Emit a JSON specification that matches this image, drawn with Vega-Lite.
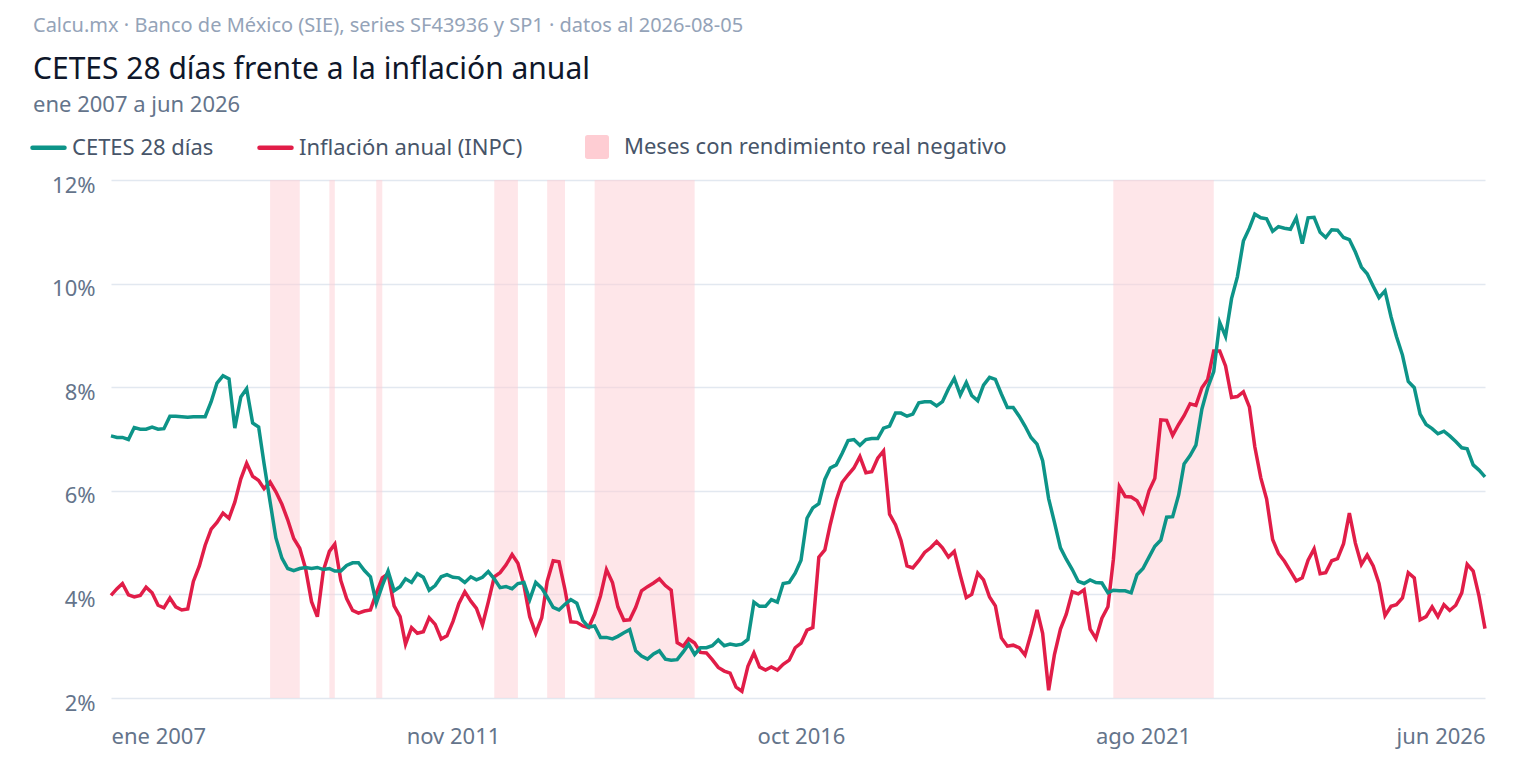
{
  "$schema": "https://vega.github.io/schema/vega-lite/v6.json",
  "background": "white",
  "padding": {"left": 30, "right": 35, "top": 16, "bottom": 10},
  "title": {
    "text": "Calcu.mx · Banco de México (SIE), series SF43936 y SP1 · datos al 2026-08-05",
    "anchor": "start",
    "fontSize": 20,
    "fontWeight": "normal",
    "color": "#94a3b8",
    "offset": 19,
    "dx": 3
  },
  "datasets": {
    "serie": [
      {"fecha": "2007-01-01", "cetes": 7.06, "inflacion": 3.98},
      {"fecha": "2007-02-01", "cetes": 7.03, "inflacion": 4.11},
      {"fecha": "2007-03-01", "cetes": 7.03, "inflacion": 4.21},
      {"fecha": "2007-04-01", "cetes": 6.99, "inflacion": 3.99},
      {"fecha": "2007-05-01", "cetes": 7.22, "inflacion": 3.95},
      {"fecha": "2007-06-01", "cetes": 7.19, "inflacion": 3.98},
      {"fecha": "2007-07-01", "cetes": 7.19, "inflacion": 4.14},
      {"fecha": "2007-08-01", "cetes": 7.23, "inflacion": 4.03},
      {"fecha": "2007-09-01", "cetes": 7.19, "inflacion": 3.79},
      {"fecha": "2007-10-01", "cetes": 7.20, "inflacion": 3.74},
      {"fecha": "2007-11-01", "cetes": 7.44, "inflacion": 3.93},
      {"fecha": "2007-12-01", "cetes": 7.44, "inflacion": 3.76},
      {"fecha": "2008-01-01", "cetes": 7.43, "inflacion": 3.70},
      {"fecha": "2008-02-01", "cetes": 7.42, "inflacion": 3.72},
      {"fecha": "2008-03-01", "cetes": 7.43, "inflacion": 4.25},
      {"fecha": "2008-04-01", "cetes": 7.43, "inflacion": 4.55},
      {"fecha": "2008-05-01", "cetes": 7.43, "inflacion": 4.95},
      {"fecha": "2008-06-01", "cetes": 7.72, "inflacion": 5.26},
      {"fecha": "2008-07-01", "cetes": 8.08, "inflacion": 5.39},
      {"fecha": "2008-08-01", "cetes": 8.22, "inflacion": 5.57},
      {"fecha": "2008-09-01", "cetes": 8.16, "inflacion": 5.47},
      {"fecha": "2008-10-01", "cetes": 7.21, "inflacion": 5.78},
      {"fecha": "2008-11-01", "cetes": 7.81, "inflacion": 6.23},
      {"fecha": "2008-12-01", "cetes": 7.97, "inflacion": 6.53},
      {"fecha": "2009-01-01", "cetes": 7.31, "inflacion": 6.28},
      {"fecha": "2009-02-01", "cetes": 7.23, "inflacion": 6.20},
      {"fecha": "2009-03-01", "cetes": 6.52, "inflacion": 6.04},
      {"fecha": "2009-04-01", "cetes": 5.79, "inflacion": 6.17},
      {"fecha": "2009-05-01", "cetes": 5.09, "inflacion": 5.98},
      {"fecha": "2009-06-01", "cetes": 4.70, "inflacion": 5.74},
      {"fecha": "2009-07-01", "cetes": 4.50, "inflacion": 5.44},
      {"fecha": "2009-08-01", "cetes": 4.46, "inflacion": 5.08},
      {"fecha": "2009-09-01", "cetes": 4.50, "inflacion": 4.89},
      {"fecha": "2009-10-01", "cetes": 4.52, "inflacion": 4.50},
      {"fecha": "2009-11-01", "cetes": 4.50, "inflacion": 3.86},
      {"fecha": "2009-12-01", "cetes": 4.52, "inflacion": 3.57},
      {"fecha": "2010-01-01", "cetes": 4.48, "inflacion": 4.46},
      {"fecha": "2010-02-01", "cetes": 4.50, "inflacion": 4.83},
      {"fecha": "2010-03-01", "cetes": 4.45, "inflacion": 4.97},
      {"fecha": "2010-04-01", "cetes": 4.45, "inflacion": 4.27},
      {"fecha": "2010-05-01", "cetes": 4.56, "inflacion": 3.92},
      {"fecha": "2010-06-01", "cetes": 4.61, "inflacion": 3.69},
      {"fecha": "2010-07-01", "cetes": 4.61, "inflacion": 3.64},
      {"fecha": "2010-08-01", "cetes": 4.46, "inflacion": 3.68},
      {"fecha": "2010-09-01", "cetes": 4.34, "inflacion": 3.70},
      {"fecha": "2010-10-01", "cetes": 3.83, "inflacion": 4.02},
      {"fecha": "2010-11-01", "cetes": 4.17, "inflacion": 4.32},
      {"fecha": "2010-12-01", "cetes": 4.45, "inflacion": 4.40},
      {"fecha": "2011-01-01", "cetes": 4.07, "inflacion": 3.78},
      {"fecha": "2011-02-01", "cetes": 4.15, "inflacion": 3.57},
      {"fecha": "2011-03-01", "cetes": 4.30, "inflacion": 3.04},
      {"fecha": "2011-04-01", "cetes": 4.23, "inflacion": 3.36},
      {"fecha": "2011-05-01", "cetes": 4.40, "inflacion": 3.25},
      {"fecha": "2011-06-01", "cetes": 4.33, "inflacion": 3.28},
      {"fecha": "2011-07-01", "cetes": 4.08, "inflacion": 3.55},
      {"fecha": "2011-08-01", "cetes": 4.17, "inflacion": 3.42},
      {"fecha": "2011-09-01", "cetes": 4.34, "inflacion": 3.14},
      {"fecha": "2011-10-01", "cetes": 4.38, "inflacion": 3.20},
      {"fecha": "2011-11-01", "cetes": 4.33, "inflacion": 3.48},
      {"fecha": "2011-12-01", "cetes": 4.32, "inflacion": 3.82},
      {"fecha": "2012-01-01", "cetes": 4.23, "inflacion": 4.05},
      {"fecha": "2012-02-01", "cetes": 4.34, "inflacion": 3.87},
      {"fecha": "2012-03-01", "cetes": 4.28, "inflacion": 3.73},
      {"fecha": "2012-04-01", "cetes": 4.33, "inflacion": 3.41},
      {"fecha": "2012-05-01", "cetes": 4.44, "inflacion": 3.85},
      {"fecha": "2012-06-01", "cetes": 4.30, "inflacion": 4.34},
      {"fecha": "2012-07-01", "cetes": 4.13, "inflacion": 4.42},
      {"fecha": "2012-08-01", "cetes": 4.15, "inflacion": 4.57},
      {"fecha": "2012-09-01", "cetes": 4.11, "inflacion": 4.77},
      {"fecha": "2012-10-01", "cetes": 4.21, "inflacion": 4.60},
      {"fecha": "2012-11-01", "cetes": 4.23, "inflacion": 4.18},
      {"fecha": "2012-12-01", "cetes": 3.90, "inflacion": 3.57},
      {"fecha": "2013-01-01", "cetes": 4.23, "inflacion": 3.25},
      {"fecha": "2013-02-01", "cetes": 4.12, "inflacion": 3.55},
      {"fecha": "2013-03-01", "cetes": 3.95, "inflacion": 4.25},
      {"fecha": "2013-04-01", "cetes": 3.75, "inflacion": 4.65},
      {"fecha": "2013-05-01", "cetes": 3.70, "inflacion": 4.63},
      {"fecha": "2013-06-01", "cetes": 3.81, "inflacion": 4.09},
      {"fecha": "2013-07-01", "cetes": 3.90, "inflacion": 3.47},
      {"fecha": "2013-08-01", "cetes": 3.83, "inflacion": 3.46},
      {"fecha": "2013-09-01", "cetes": 3.50, "inflacion": 3.39},
      {"fecha": "2013-10-01", "cetes": 3.37, "inflacion": 3.36},
      {"fecha": "2013-11-01", "cetes": 3.39, "inflacion": 3.62},
      {"fecha": "2013-12-01", "cetes": 3.17, "inflacion": 3.97},
      {"fecha": "2014-01-01", "cetes": 3.17, "inflacion": 4.48},
      {"fecha": "2014-02-01", "cetes": 3.14, "inflacion": 4.23},
      {"fecha": "2014-03-01", "cetes": 3.19, "inflacion": 3.76},
      {"fecha": "2014-04-01", "cetes": 3.26, "inflacion": 3.50},
      {"fecha": "2014-05-01", "cetes": 3.32, "inflacion": 3.51},
      {"fecha": "2014-06-01", "cetes": 2.91, "inflacion": 3.75},
      {"fecha": "2014-07-01", "cetes": 2.81, "inflacion": 4.07},
      {"fecha": "2014-08-01", "cetes": 2.75, "inflacion": 4.15},
      {"fecha": "2014-09-01", "cetes": 2.85, "inflacion": 4.22},
      {"fecha": "2014-10-01", "cetes": 2.91, "inflacion": 4.30},
      {"fecha": "2014-11-01", "cetes": 2.75, "inflacion": 4.17},
      {"fecha": "2014-12-01", "cetes": 2.73, "inflacion": 4.08},
      {"fecha": "2015-01-01", "cetes": 2.74, "inflacion": 3.07},
      {"fecha": "2015-02-01", "cetes": 2.89, "inflacion": 3.00},
      {"fecha": "2015-03-01", "cetes": 3.04, "inflacion": 3.14},
      {"fecha": "2015-04-01", "cetes": 2.84, "inflacion": 3.06},
      {"fecha": "2015-05-01", "cetes": 2.97, "inflacion": 2.88},
      {"fecha": "2015-06-01", "cetes": 2.97, "inflacion": 2.87},
      {"fecha": "2015-07-01", "cetes": 3.01, "inflacion": 2.74},
      {"fecha": "2015-08-01", "cetes": 3.12, "inflacion": 2.59},
      {"fecha": "2015-09-01", "cetes": 3.01, "inflacion": 2.52},
      {"fecha": "2015-10-01", "cetes": 3.04, "inflacion": 2.48},
      {"fecha": "2015-11-01", "cetes": 3.02, "inflacion": 2.21},
      {"fecha": "2015-12-01", "cetes": 3.04, "inflacion": 2.13},
      {"fecha": "2016-01-01", "cetes": 3.13, "inflacion": 2.61},
      {"fecha": "2016-02-01", "cetes": 3.85, "inflacion": 2.87},
      {"fecha": "2016-03-01", "cetes": 3.77, "inflacion": 2.60},
      {"fecha": "2016-04-01", "cetes": 3.77, "inflacion": 2.54},
      {"fecha": "2016-05-01", "cetes": 3.90, "inflacion": 2.60},
      {"fecha": "2016-06-01", "cetes": 3.85, "inflacion": 2.54},
      {"fecha": "2016-07-01", "cetes": 4.21, "inflacion": 2.65},
      {"fecha": "2016-08-01", "cetes": 4.23, "inflacion": 2.73},
      {"fecha": "2016-09-01", "cetes": 4.41, "inflacion": 2.97},
      {"fecha": "2016-10-01", "cetes": 4.66, "inflacion": 3.06},
      {"fecha": "2016-11-01", "cetes": 5.47, "inflacion": 3.31},
      {"fecha": "2016-12-01", "cetes": 5.67, "inflacion": 3.36},
      {"fecha": "2017-01-01", "cetes": 5.75, "inflacion": 4.72},
      {"fecha": "2017-02-01", "cetes": 6.22, "inflacion": 4.86},
      {"fecha": "2017-03-01", "cetes": 6.44, "inflacion": 5.35},
      {"fecha": "2017-04-01", "cetes": 6.50, "inflacion": 5.82},
      {"fecha": "2017-05-01", "cetes": 6.72, "inflacion": 6.16},
      {"fecha": "2017-06-01", "cetes": 6.97, "inflacion": 6.31},
      {"fecha": "2017-07-01", "cetes": 6.99, "inflacion": 6.44},
      {"fecha": "2017-08-01", "cetes": 6.88, "inflacion": 6.66},
      {"fecha": "2017-09-01", "cetes": 6.99, "inflacion": 6.35},
      {"fecha": "2017-10-01", "cetes": 7.01, "inflacion": 6.37},
      {"fecha": "2017-11-01", "cetes": 7.01, "inflacion": 6.63},
      {"fecha": "2017-12-01", "cetes": 7.21, "inflacion": 6.77},
      {"fecha": "2018-01-01", "cetes": 7.25, "inflacion": 5.55},
      {"fecha": "2018-02-01", "cetes": 7.50, "inflacion": 5.34},
      {"fecha": "2018-03-01", "cetes": 7.50, "inflacion": 5.04},
      {"fecha": "2018-04-01", "cetes": 7.44, "inflacion": 4.55},
      {"fecha": "2018-05-01", "cetes": 7.48, "inflacion": 4.51},
      {"fecha": "2018-06-01", "cetes": 7.70, "inflacion": 4.65},
      {"fecha": "2018-07-01", "cetes": 7.72, "inflacion": 4.81},
      {"fecha": "2018-08-01", "cetes": 7.72, "inflacion": 4.90},
      {"fecha": "2018-09-01", "cetes": 7.64, "inflacion": 5.02},
      {"fecha": "2018-10-01", "cetes": 7.72, "inflacion": 4.90},
      {"fecha": "2018-11-01", "cetes": 7.97, "inflacion": 4.72},
      {"fecha": "2018-12-01", "cetes": 8.17, "inflacion": 4.83},
      {"fecha": "2019-01-01", "cetes": 7.85, "inflacion": 4.37},
      {"fecha": "2019-02-01", "cetes": 8.09, "inflacion": 3.94},
      {"fecha": "2019-03-01", "cetes": 7.84, "inflacion": 4.00},
      {"fecha": "2019-04-01", "cetes": 7.74, "inflacion": 4.41},
      {"fecha": "2019-05-01", "cetes": 8.04, "inflacion": 4.28},
      {"fecha": "2019-06-01", "cetes": 8.19, "inflacion": 3.95},
      {"fecha": "2019-07-01", "cetes": 8.15, "inflacion": 3.78},
      {"fecha": "2019-08-01", "cetes": 7.87, "inflacion": 3.16},
      {"fecha": "2019-09-01", "cetes": 7.61, "inflacion": 3.00},
      {"fecha": "2019-10-01", "cetes": 7.61, "inflacion": 3.02},
      {"fecha": "2019-11-01", "cetes": 7.44, "inflacion": 2.97},
      {"fecha": "2019-12-01", "cetes": 7.25, "inflacion": 2.83},
      {"fecha": "2020-01-01", "cetes": 7.03, "inflacion": 3.24},
      {"fecha": "2020-02-01", "cetes": 6.90, "inflacion": 3.70},
      {"fecha": "2020-03-01", "cetes": 6.58, "inflacion": 3.25},
      {"fecha": "2020-04-01", "cetes": 5.85, "inflacion": 2.15},
      {"fecha": "2020-05-01", "cetes": 5.39, "inflacion": 2.84},
      {"fecha": "2020-06-01", "cetes": 4.90, "inflacion": 3.33},
      {"fecha": "2020-07-01", "cetes": 4.68, "inflacion": 3.62},
      {"fecha": "2020-08-01", "cetes": 4.48, "inflacion": 4.05},
      {"fecha": "2020-09-01", "cetes": 4.25, "inflacion": 4.01},
      {"fecha": "2020-10-01", "cetes": 4.21, "inflacion": 4.09},
      {"fecha": "2020-11-01", "cetes": 4.28, "inflacion": 3.33},
      {"fecha": "2020-12-01", "cetes": 4.23, "inflacion": 3.15},
      {"fecha": "2021-01-01", "cetes": 4.22, "inflacion": 3.54},
      {"fecha": "2021-02-01", "cetes": 4.03, "inflacion": 3.76},
      {"fecha": "2021-03-01", "cetes": 4.08, "inflacion": 4.67},
      {"fecha": "2021-04-01", "cetes": 4.07, "inflacion": 6.08},
      {"fecha": "2021-05-01", "cetes": 4.07, "inflacion": 5.89},
      {"fecha": "2021-06-01", "cetes": 4.03, "inflacion": 5.88},
      {"fecha": "2021-07-01", "cetes": 4.38, "inflacion": 5.81},
      {"fecha": "2021-08-01", "cetes": 4.50, "inflacion": 5.59},
      {"fecha": "2021-09-01", "cetes": 4.72, "inflacion": 6.00},
      {"fecha": "2021-10-01", "cetes": 4.93, "inflacion": 6.24},
      {"fecha": "2021-11-01", "cetes": 5.05, "inflacion": 7.37},
      {"fecha": "2021-12-01", "cetes": 5.49, "inflacion": 7.36},
      {"fecha": "2022-01-01", "cetes": 5.50, "inflacion": 7.07},
      {"fecha": "2022-02-01", "cetes": 5.92, "inflacion": 7.28},
      {"fecha": "2022-03-01", "cetes": 6.52, "inflacion": 7.45},
      {"fecha": "2022-04-01", "cetes": 6.68, "inflacion": 7.68},
      {"fecha": "2022-05-01", "cetes": 6.88, "inflacion": 7.65},
      {"fecha": "2022-06-01", "cetes": 7.58, "inflacion": 7.99},
      {"fecha": "2022-07-01", "cetes": 7.99, "inflacion": 8.15},
      {"fecha": "2022-08-01", "cetes": 8.30, "inflacion": 8.70},
      {"fecha": "2022-09-01", "cetes": 9.25, "inflacion": 8.70},
      {"fecha": "2022-10-01", "cetes": 8.98, "inflacion": 8.41},
      {"fecha": "2022-11-01", "cetes": 9.71, "inflacion": 7.80},
      {"fecha": "2022-12-01", "cetes": 10.13, "inflacion": 7.82},
      {"fecha": "2023-01-01", "cetes": 10.82, "inflacion": 7.91},
      {"fecha": "2023-02-01", "cetes": 11.07, "inflacion": 7.62},
      {"fecha": "2023-03-01", "cetes": 11.34, "inflacion": 6.85},
      {"fecha": "2023-04-01", "cetes": 11.27, "inflacion": 6.25},
      {"fecha": "2023-05-01", "cetes": 11.25, "inflacion": 5.84},
      {"fecha": "2023-06-01", "cetes": 11.01, "inflacion": 5.06},
      {"fecha": "2023-07-01", "cetes": 11.10, "inflacion": 4.79},
      {"fecha": "2023-08-01", "cetes": 11.07, "inflacion": 4.64},
      {"fecha": "2023-09-01", "cetes": 11.05, "inflacion": 4.45},
      {"fecha": "2023-10-01", "cetes": 11.27, "inflacion": 4.26},
      {"fecha": "2023-11-01", "cetes": 10.77, "inflacion": 4.32},
      {"fecha": "2023-12-01", "cetes": 11.27, "inflacion": 4.66},
      {"fecha": "2024-01-01", "cetes": 11.28, "inflacion": 4.88},
      {"fecha": "2024-02-01", "cetes": 10.99, "inflacion": 4.40},
      {"fecha": "2024-03-01", "cetes": 10.89, "inflacion": 4.42},
      {"fecha": "2024-04-01", "cetes": 11.04, "inflacion": 4.65},
      {"fecha": "2024-05-01", "cetes": 11.03, "inflacion": 4.69},
      {"fecha": "2024-06-01", "cetes": 10.89, "inflacion": 4.98},
      {"fecha": "2024-07-01", "cetes": 10.85, "inflacion": 5.57},
      {"fecha": "2024-08-01", "cetes": 10.61, "inflacion": 4.99},
      {"fecha": "2024-09-01", "cetes": 10.32, "inflacion": 4.58},
      {"fecha": "2024-10-01", "cetes": 10.19, "inflacion": 4.76},
      {"fecha": "2024-11-01", "cetes": 9.95, "inflacion": 4.55},
      {"fecha": "2024-12-01", "cetes": 9.73, "inflacion": 4.21},
      {"fecha": "2025-01-01", "cetes": 9.86, "inflacion": 3.59},
      {"fecha": "2025-02-01", "cetes": 9.36, "inflacion": 3.77},
      {"fecha": "2025-03-01", "cetes": 8.98, "inflacion": 3.80},
      {"fecha": "2025-04-01", "cetes": 8.62, "inflacion": 3.93},
      {"fecha": "2025-05-01", "cetes": 8.11, "inflacion": 4.42},
      {"fecha": "2025-06-01", "cetes": 7.99, "inflacion": 4.32},
      {"fecha": "2025-07-01", "cetes": 7.48, "inflacion": 3.51},
      {"fecha": "2025-08-01", "cetes": 7.28, "inflacion": 3.57},
      {"fecha": "2025-09-01", "cetes": 7.20, "inflacion": 3.76},
      {"fecha": "2025-10-01", "cetes": 7.10, "inflacion": 3.57},
      {"fecha": "2025-11-01", "cetes": 7.15, "inflacion": 3.80},
      {"fecha": "2025-12-01", "cetes": 7.06, "inflacion": 3.69},
      {"fecha": "2026-01-01", "cetes": 6.95, "inflacion": 3.79},
      {"fecha": "2026-02-01", "cetes": 6.83, "inflacion": 4.03},
      {"fecha": "2026-03-01", "cetes": 6.81, "inflacion": 4.58},
      {"fecha": "2026-04-01", "cetes": 6.50, "inflacion": 4.45},
      {"fecha": "2026-05-01", "cetes": 6.40, "inflacion": 3.97},
      {"fecha": "2026-06-01", "cetes": 6.27, "inflacion": 3.34}
    ],
    "negativos": [
      {"fecha": "2009-04-01", "fecha_fin": "2009-09-01"},
      {"fecha": "2010-02-01", "fecha_fin": "2010-03-01"},
      {"fecha": "2010-10-01", "fecha_fin": "2010-11-01"},
      {"fecha": "2012-06-01", "fecha_fin": "2012-10-01"},
      {"fecha": "2013-03-01", "fecha_fin": "2013-06-01"},
      {"fecha": "2013-11-01", "fecha_fin": "2015-04-01"},
      {"fecha": "2021-03-01", "fecha_fin": "2022-08-01"}
    ]
  },
  "vconcat": [
    {
      "width": 1374,
      "height": 518,
      "title": {
        "text": "CETES 28 días frente a la inflación anual",
        "subtitle": "ene 2007 a jun 2026",
        "anchor": "start",
        "frame": "bounds",
        "fontSize": 30,
        "fontWeight": "normal",
        "color": "#0f172a",
        "subtitleFontSize": 22,
        "subtitleColor": "#64748b",
        "subtitlePadding": 10,
        "offset": 58,
        "dx": 3
      },
      "encoding": {
        "x": {
          "field": "fecha",
          "type": "temporal",
          "scale": {"type": "utc"},
          "axis": {
            "title": null,
            "grid": false,
            "labelFlush": true,
            "labelPadding": 28,
            "values": [
              {"year": 2007, "month": 1, "date": 1, "utc": true},
              {"year": 2011, "month": 11, "date": 1, "utc": true},
              {"year": 2016, "month": 10, "date": 1, "utc": true},
              {"year": 2021, "month": 8, "date": 1, "utc": true},
              {"year": 2026, "month": 6, "date": 1, "utc": true}
            ],
            "labelExpr": "['ene','feb','mar','abr','may','jun','jul','ago','sep','oct','nov','dic'][utcmonth(datum.value)] + ' ' + utcyear(datum.value)"
          }
        }
      },
      "layer": [
        {
          "data": {"name": "negativos"},
          "mark": {"type": "rect", "opacity": 0.5},
          "encoding": {
            "x2": {"field": "fecha_fin"},
            "fill": {
              "datum": "Meses con rendimiento real negativo",
              "type": "nominal",
              "scale": {"range": ["#fecdd3"]},
              "legend": {
                "orient": "none",
                "legendX": 474,
                "legendY": -45,
                "title": null,
                "symbolType": "M-0.78,-1L0.78,-1Q1,-1,1,-0.78L1,0.78Q1,1,0.78,1L-0.78,1Q-1,1,-1,0.78L-1,-0.78Q-1,-1,-0.78,-1Z",
                "symbolSize": 576,
                "symbolOpacity": 1,
                "symbolStrokeWidth": 0,
                "labelFontSize": 22,
                "labelLimit": 600,
                "labelColor": "#475569",
                "labelOffset": 15
              }
            }
          }
        },
        {
          "data": {"name": "serie"},
          "mark": {"type": "line", "strokeWidth": 3.5},
          "encoding": {
            "y": {
              "field": "inflacion",
              "type": "quantitative",
              "scale": {"domain": [2, 12], "nice": false},
              "axis": {
                "title": null,
                "values": [2, 4, 6, 8, 10, 12],
                "labelExpr": "datum.value + '%'",
                "labelPadding": 16,
                "labelOffset": 5,
                "minExtent": 81,
                "gridColor": "#e2e8f0",
                "gridWidth": 1.5
              }
            },
            "color": {
              "datum": "Inflación anual (INPC)",
              "type": "nominal",
              "scale": {
                "domain": ["CETES 28 días", "Inflación anual (INPC)"],
                "range": ["#0d9488", "#e11d48"]
              },
              "legend": {
                "orient": "none",
                "legendX": -81,
                "legendY": -51,
                "direction": "horizontal",
                "title": null,
                "symbolType": "stroke",
                "symbolSize": 1024,
                "symbolStrokeWidth": 4.5,
                "labelFontSize": 22,
                "labelLimit": 600,
                "labelColor": "#475569",
                "labelOffset": 5,
                "columnPadding": 36,
                "encode": {"symbols": {"update": {"strokeCap": {"value": "round"}}}}
              }
            }
          }
        },
        {
          "data": {"name": "serie"},
          "mark": {"type": "line", "strokeWidth": 3.5},
          "encoding": {
            "y": {"field": "cetes", "type": "quantitative", "title": null},
            "color": {"datum": "CETES 28 días", "type": "nominal"}
          }
        }
      ]
    }
  ],
  "config": {
    "font": "Noto Sans",
    "view": {"stroke": null},
    "axis": {
      "domain": false,
      "ticks": false,
      "labelFont": "Noto Sans",
      "labelFontSize": 22,
      "labelColor": "#64748b"
    },
    "legend": {"labelFont": "Noto Sans"}
  }
}
